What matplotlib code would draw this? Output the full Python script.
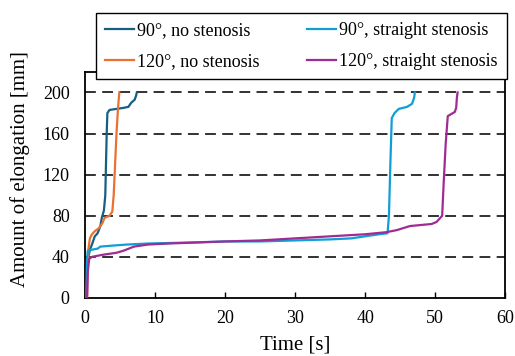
import matplotlib
matplotlib.use("Agg")
import matplotlib.pyplot as plt

plt.rcParams['font.family']=['Liberation Serif','DejaVu Serif']

t_90_none=[0.2,0.3,0.5,0.7,1.0,1.4,1.8,2.2,2.4,2.7,2.9,3.0,3.1,3.2,3.5,4.5,5.5,6.2,6.6,7.1,7.3,7.4]
v_90_none=[0,30,40,47,52,60,63,70,78,85,100,130,160,180,183,184,185,186,190,193,197,200]

t_120_none=[0.3,0.4,0.5,0.7,1.0,1.4,2.0,2.5,2.8,3.5,3.9,4.1,4.3,4.5,4.7,4.9]
v_120_none=[0,30,48,58,62,65,68,73,78,80,84,100,130,160,183,200]

t_90_sten=[0.2,0.3,0.4,1.0,1.8,2.2,4,6,9,15,20,25,30,35,38,40,42,43.2,43.4,43.6,43.8,44.2,44.8,46,46.7,47.0,47.1]
v_90_sten=[0,38,46,47,48,50,51,52,53,54,55,55,56,57,58,60,62,63,80,130,175,180,184,186,189,195,200]

t_120_sten=[0.3,0.4,0.6,1.0,2.5,4.5,5.5,7,9,12,20,25,30,35,40,43,44.5,46.4,49.5,50.2,51,51.2,51.5,51.8,52.8,53.0,53.1,53.2]
v_120_sten=[0,25,38,40,42,44,46,50,52,53,55,56,58,60,62,64,66,70,72,74,80,110,150,177,181,185,195,200]

labels=["90°, no stenosis","120°, no stenosis","90°, straight stenosis","120°, straight stenosis"]
colors=["#156082","#E97132","#0F9ED5","#A02B93"]

fig=plt.figure(figsize=(5.15,3.56),dpi=100)
ax=fig.add_axes([0.165,0.163,0.816,0.635])

for y in [40,80,120,160,200]:
    ax.axhline(y,color="#222222",lw=1.3,ls=(0,(6,3.5)),zorder=1)

series=[(t_90_none,v_90_none),(t_120_none,v_120_none),(t_90_sten,v_90_sten),(t_120_sten,v_120_sten)]
for (t,v),lab,c in zip(series,labels,colors):
    ax.plot(t,v,color=c,lw=1.6,label=lab,zorder=3)

ax.set_xlim(0,60)
ax.set_ylim(0,220)
ax.set_xticks(range(0,61,10))
ax.set_yticks(range(0,201,40))
ax.tick_params(axis="x",direction="in",length=4,width=1,labelsize=13,pad=9)
ax.tick_params(axis="y",length=0,labelsize=13,pad=11)
for s in ax.spines.values():
    s.set_linewidth(1.3)
ax.set_xlabel("Time [s]",fontsize=15,labelpad=6)
ax.set_ylabel("Amount of elongation [mm]",fontsize=15)
ax.yaxis.set_label_coords(-0.13,0.57)

fig.legend(loc="upper left",bbox_to_anchor=(0.186,0.964),ncol=2,fontsize=13,
           frameon=True,fancybox=False,edgecolor="black",framealpha=1,
           handlelength=1.6,columnspacing=2.6,borderpad=0.5,handletextpad=0.2,
           labelspacing=0.8,borderaxespad=0)

plt.savefig("out.png",dpi=100)
